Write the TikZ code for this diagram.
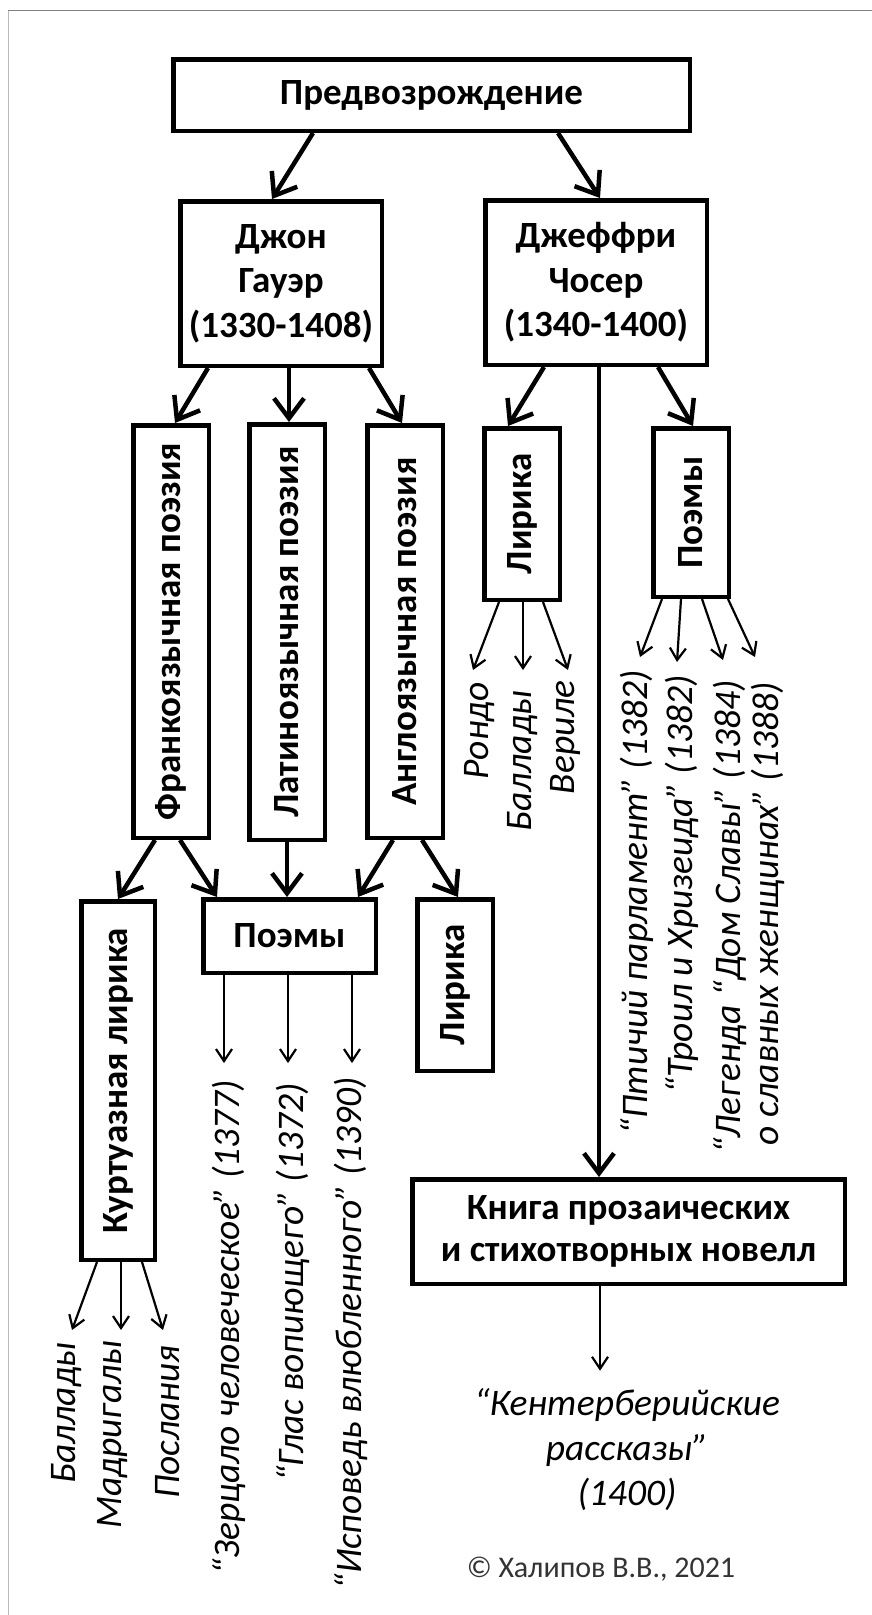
\documentclass[tikz,border=0pt]{standalone}
\usepackage{fontspec}
\setmainfont{Carlito}
\usetikzlibrary{arrows.meta,calc}
\begin{document}
\begin{tikzpicture}[x=1pt,y=-1pt,
  box/.style={draw, line width=4.5pt, inner sep=0pt, align=center,
              font=\bfseries\fontsize{37}{44.5}\selectfont},
  bigarrow/.style={line width=4.5pt, -{Straight Barb[length=20pt,width=30pt]}},
  smallarrow/.style={line width=2.2pt, -{Straight Barb[length=12pt,width=16pt]}},
  work/.style={rotate=90, anchor=east, inner sep=0pt,
               font=\itshape\fontsize{37.5}{45}\selectfont},
  frameline/.style={line width=1.5pt}
]
\useasboundingbox (0,0) rectangle (871,1615);

% thin page frame (top and left edges)
\draw[frameline, gray!55] (8.5,1620) -- (8.5,10.5);
\draw[frameline, gray] (7.75,10.5) -- (880,10.5);

% ---- boxes ----
\node[box, minimum width=516.5pt, minimum height=71.5pt] (top) at (431.5,95) {Предвозрождение};
\node[box, minimum width=201.5pt, minimum height=164.5pt] (gower) at (281,283.5) {Джон\\Гауэр\\(1330-1408)};
\node[box, minimum width=221.5pt, minimum height=164.5pt] (chaucer) at (596,282.5) {Джеффри\\Чосер\\(1340-1400)};

\node[box, minimum width=75.5pt, minimum height=412.5pt] (franko) at (171,631.5) {\rotatebox{90}{Франкоязычная поэзия}};
\node[box, minimum width=75.5pt, minimum height=415.5pt] (latino) at (287,632) {\rotatebox{90}{Латиноязычная поэзия}};
\node[box, minimum width=75.5pt, minimum height=412.5pt] (anglo) at (405,631.5) {\rotatebox{90}{Англоязычная поэзия}};

\node[box, minimum width=75.5pt, minimum height=171.5pt] (lyrC) at (522,514) {\rotatebox{90}{Лирика}};
\node[box, minimum width=75.5pt, minimum height=168.5pt] (poemC) at (691,512.5) {\rotatebox{90}{Поэмы}};

\node[box, minimum width=73.5pt, minimum height=358.5pt] (kurt) at (118,1080.5) {\rotatebox{90}{Куртуазная лирика}};
\node[box, minimum width=172.5pt, minimum height=73.5pt] (poemG) at (289.5,936) {Поэмы};
\node[box, minimum width=75.5pt, minimum height=171.5pt] (lyrG) at (455,985) {\rotatebox{90}{Лирика}};

\node[box, minimum width=432.5pt, minimum height=104.5pt, font=\bfseries\fontsize{37}{42}\selectfont] (kniga) at (628.5,1231.5) {Книга прозаических\\и стихотворных новелл};

% ---- works (rotated labels, anchored at their end) ----
\node[work] (rondo)  at (480,682) {Рондо};
\node[work] (balC)   at (523,690) {Баллады};
\node[work] (verile) at (565,680) {Вериле};

\node[work] (ptich)  at (637,670) {“Птичий парламент” (1382)};
\node[work] (troil)  at (682,675) {“Троил и Хризеида” (1382)};
\node[work] (dom)    at (730,680) {“Легенда “Дом Славы” (1384)};
\node[work] (leg)    at (768,682) {о славных женщинах” (1388)};

\node[work] (zerc)   at (229,1080) {“Зерцало человеческое” (1377)};
\node[work] (glas)   at (293,1083) {“Глас вопиющего” (1372)};
\node[work] (ispov)  at (351,1077) {“Исповедь влюбленного” (1390)};

\node[work] (balK)   at (67,1342)  {Баллады};
\node[work] (madr)   at (113,1340) {Мадригалы};
\node[work] (posl)   at (168,1345) {Послания};

\node[inner sep=0pt, align=center, font=\itshape\fontsize{37.5}{45}\selectfont] (cant) at (627,1450) {“Кентерберийские\\рассказы”\\(1400)};

\node[inner sep=0pt, text=black!80, font=\fontsize{30}{36}\selectfont] (copy) at (601,1569) {© Халипов В.В., 2021};

% ---- thick connectors ----
\draw[bigarrow] ($(top.south)+(-118.5,0)$) -- ($(gower.north)+(-9,0)$);
\draw[bigarrow] ($(top.south)+(126.5,0)$) -- ($(chaucer.north)+(4,0)$);

\draw[bigarrow] ($(gower.south)+(-73,0)$) -- ($(franko.north)+(4,0)$);
\draw[bigarrow] ($(gower.south)+(8,0)$) -- ($(latino.north)+(2,0)$);
\draw[bigarrow] ($(gower.south)+(88,0)$) -- ($(anglo.north)+(-3,0)$);

\draw[bigarrow] ($(chaucer.south)+(-52,0)$) -- ($(lyrC.north)+(-14,0)$);
\draw[bigarrow] ($(chaucer.south)+(3,0)$) -- ($(kniga.north)+(-29.5,0)$);
\draw[bigarrow] ($(chaucer.south)+(62,0)$) -- ($(poemC.north)+(2,0)$);

\draw[bigarrow] ($(franko.south)+(-16,0)$) -- ($(kurt.north)+(0,0)$);
\draw[bigarrow] ($(franko.south)+(9,0)$) -- ($(poemG.north)+(-72.5,0)$);
\draw[bigarrow] ($(latino.south)+(0,0)$) -- ($(poemG.north)+(-2.5,0)$);
\draw[bigarrow] ($(anglo.south)+(-12,0)$) -- ($(poemG.north)+(68.5,0)$);
\draw[bigarrow] ($(anglo.south)+(17,0)$) -- ($(lyrG.north)+(3,0)$);

% ---- thin connectors to the works ----
\draw[smallarrow] ($(lyrC.south)+(-23,0)$) -- ($(rondo.east)+(-7,-12)$);
\draw[smallarrow] ($(lyrC.south)+(1,0)$) -- ($(balC.east)+(0,-20)$);
\draw[smallarrow] ($(lyrC.south)+(21,0)$) -- ($(verile.east)+(3,-10)$);

\draw[smallarrow] ($(poemC.south)+(-29,0)$) -- ($(ptich.east)+(3,-13)$);
\draw[smallarrow] ($(poemC.south)+(-10,0)$) -- ($(troil.east)+(-5,-13)$);
\draw[smallarrow] ($(poemC.south)+(11,0)$) -- ($(dom.east)+(-7,-20)$);
\draw[smallarrow] ($(poemC.south)+(37,0)$) -- ($(leg.east)+(-13,-25)$);

\draw[smallarrow] ($(poemG.south)+(-65.5,0)$) -- ($(zerc.east)+(-5,-17)$);
\draw[smallarrow] ($(poemG.south)+(-1.5,0)$) -- ($(glas.east)+(-5,-20)$);
\draw[smallarrow] ($(poemG.south)+(62.5,0)$) -- ($(ispov.east)+(1,-14)$);

\draw[smallarrow] ($(kurt.south)+(-21,0)$) -- ($(balK.east)+(5,-12)$);
\draw[smallarrow] ($(kurt.south)+(3,0)$) -- ($(madr.east)+(8,-10)$);
\draw[smallarrow] ($(kurt.south)+(24,0)$) -- ($(posl.east)+(-5,-15)$);

\draw[smallarrow] ($(kniga.south)+(-28.5,0)$) -- ($(cant.north)+(-27,-18)$);
\end{tikzpicture}
\end{document}
